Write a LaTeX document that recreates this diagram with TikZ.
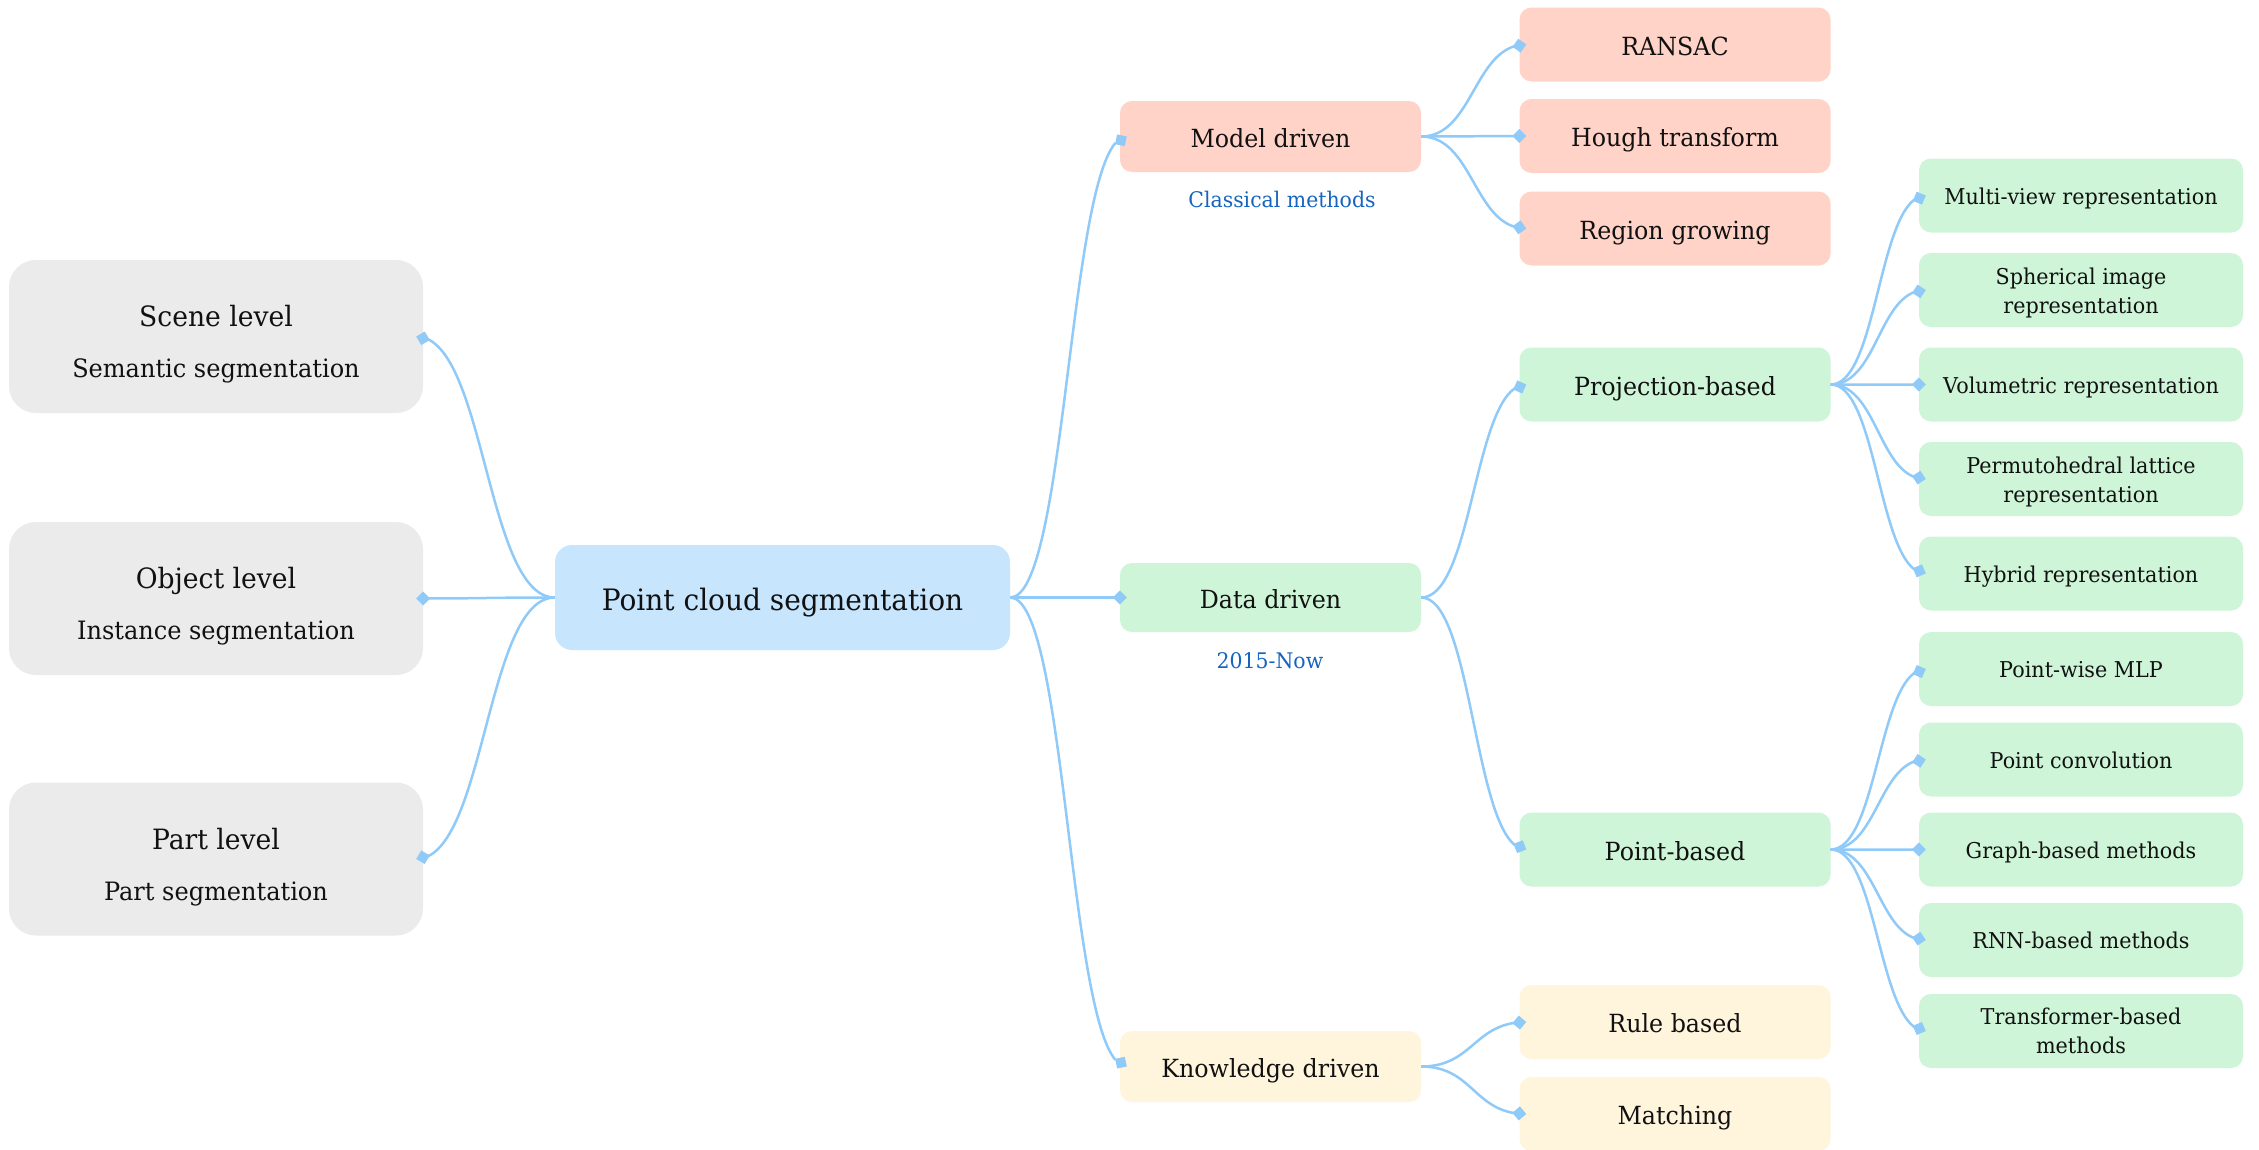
\documentclass[tikz,border=0pt]{standalone}
\usepackage{fontspec}
\setmainfont{DejaVu Serif}[FakeStretch=0.95]
\usetikzlibrary{calc,arrows.meta,bending}
\definecolor{lvgray}{HTML}{EBEBEB}
\definecolor{lvblue}{HTML}{C7E6FD}
\definecolor{lvsalmon}{HTML}{FFD3C7}
\definecolor{lvgreen}{HTML}{CEF5D7}
\definecolor{lvcream}{HTML}{FFF5DD}
\definecolor{linkc}{HTML}{90CAF9}
\definecolor{labc}{HTML}{1565C0}
\definecolor{txtc}{HTML}{111111}
\newcommand\fzcenter{\fontsize{29.5}{35}\selectfont}
\newcommand\fztitle{\fontsize{28}{34}\selectfont}
\newcommand\fzsub{\fontsize{25.3}{30}\selectfont}
\newcommand\fzmid{\fontsize{25}{30}\selectfont}
\newcommand\fzleaf{\fontsize{21.8}{29}\selectfont}
\newcommand\fzlab{\fontsize{21.5}{27}\selectfont}
\newcommand\toplift{\rule{0pt}{22.6pt}}
\tikzset{
  box/.style={rectangle, inner sep=0pt, align=center, text=txtc},
  gbox/.style={box, fill=lvgray, rounded corners=27pt, minimum width=414pt, minimum height=153pt},
  cbox/.style={box, fill=lvblue, rounded corners=17pt, minimum width=455pt, minimum height=105pt, font=\fzcenter, text height=25pt, text depth=0pt},
  midbox/.style={box, rounded corners=12pt, minimum width=301pt, minimum height=70pt, font=\fzmid, text height=21.5pt, text depth=0pt},
  l3box/.style={box, rounded corners=12pt, minimum width=311pt, minimum height=74pt, font=\fzmid, text height=21.5pt, text depth=0pt},
  leafbox2/.style={box, fill=lvgreen, rounded corners=12pt, minimum width=324pt, minimum height=74pt, font=\fzleaf},
  leafbox/.style={leafbox2, text height=17pt, text depth=0pt},
  ttl/.style={anchor=base, inner sep=0pt, text=txtc, font=\fztitle},
  subt/.style={anchor=base, inner sep=0pt, text=txtc, font=\fzsub},
  lab/.style={anchor=base, inner sep=0pt, text=labc, font=\fzlab},
  link/.style={draw=linkc, line width=2.5pt, -{Diamond[length=14pt,width=14pt,flex=1,fill=linkc]}}
}
\newcommand\mmlinkR[2]{%
  \draw[link] let \p1=(#1.east), \p2=($(#2.west)+(7,0)$) in
    (\p1) .. controls ({0.5*(\x1+\x2)},\y1) and ({0.5*(\x1+\x2)},\y2) .. (\p2);}
\newcommand\mmlinkL[2]{%
  \draw[link] let \p1=(#1.west), \p2=($(#2.east)+(-7,0)$) in
    (\p1) .. controls ({0.5*(\x1+\x2)},\y1) and ({0.5*(\x1+\x2)},\y2) .. (\p2);}
\begin{document}
\begin{tikzpicture}[x=1pt,y=-1pt]
\fill[white] (0,0) rectangle (2259,1149);
\useasboundingbox (0,0) rectangle (2259,1149);

% level 1 (left)
\node[gbox] (scene) at (216,336.5) {};
\node[ttl] (scenet) at ($(scene.north)+(0,67)$) {Scene level};
\node[subt] (scenes) at ($(scene.north)+(0,118)$) {Semantic segmentation};
\node[gbox] (object) at (216,598.5) {};
\node[ttl] (objectt) at ($(object.north)+(0,67)$) {Object level};
\node[subt] (objects) at ($(object.north)+(0,118)$) {Instance segmentation};
\node[gbox] (part) at (216,859) {};
\node[ttl] (partt) at ($(part.north)+(0,67)$) {Part level};
\node[subt] (parts) at ($(part.north)+(0,118)$) {Part segmentation};

% center
\node[cbox] (center) at (782.5,597.5) {Point cloud segmentation};

% level 2
\node[midbox, fill=lvsalmon, minimum height=71pt] (model) at (1270.5,136.5) {Model driven};
\node[lab] (modell) at (1282,207) {Classical methods};
\node[midbox, fill=lvgreen, minimum height=69pt] (data) at (1270.5,597.5) {Data driven};
\node[lab] (datal) at (1270,668) {2015-Now};
\node[midbox, fill=lvcream, minimum height=71pt] (know) at (1270.5,1066.5) {Knowledge driven};

% level 3
\node[l3box, fill=lvsalmon] (ransac) at (1675,44.5) {RANSAC};
\node[l3box, fill=lvsalmon] (hough) at (1675,136) {Hough transform};
\node[l3box, fill=lvsalmon] (region) at (1675,228.5) {Region growing};
\node[l3box, fill=lvgreen] (proj) at (1675,384.5) {Projection-based};
\node[l3box, fill=lvgreen] (pointb) at (1675,849.5) {Point-based};
\node[l3box, fill=lvcream] (rule) at (1675,1022) {Rule based};
\node[l3box, fill=lvcream] (match) at (1675,1114) {Matching};

% level 4
\node[leafbox] (mv) at (2081,195.5) {Multi-view representation};
\node[leafbox2] (sph) at (2081,290) {\toplift Spherical image\\representation};
\node[leafbox] (vol) at (2081,384.5) {Volumetric representation};
\node[leafbox2] (perm) at (2081,479) {\toplift Permutohedral lattice\\representation};
\node[leafbox] (hyb) at (2081,573.5) {Hybrid representation};
\node[leafbox] (pwm) at (2081,669) {Point-wise MLP};
\node[leafbox] (pconv) at (2081,759.5) {Point convolution};
\node[leafbox] (graph) at (2081,849.5) {Graph-based methods};
\node[leafbox] (rnn) at (2081,940) {RNN-based methods};
\node[leafbox2] (trans) at (2081,1031) {Transformer-based\\methods};

% connectors
\mmlinkL{center}{scene}
\mmlinkL{center}{object}
\mmlinkL{center}{part}
\mmlinkR{center}{model}
\mmlinkR{center}{data}
\mmlinkR{center}{know}
\mmlinkR{model}{ransac}
\mmlinkR{model}{hough}
\mmlinkR{model}{region}
\mmlinkR{data}{proj}
\mmlinkR{data}{pointb}
\mmlinkR{know}{rule}
\mmlinkR{know}{match}
\mmlinkR{proj}{mv}
\mmlinkR{proj}{sph}
\mmlinkR{proj}{vol}
\mmlinkR{proj}{perm}
\mmlinkR{proj}{hyb}
\mmlinkR{pointb}{pwm}
\mmlinkR{pointb}{pconv}
\mmlinkR{pointb}{graph}
\mmlinkR{pointb}{rnn}
\mmlinkR{pointb}{trans}
\end{tikzpicture}
\end{document}
